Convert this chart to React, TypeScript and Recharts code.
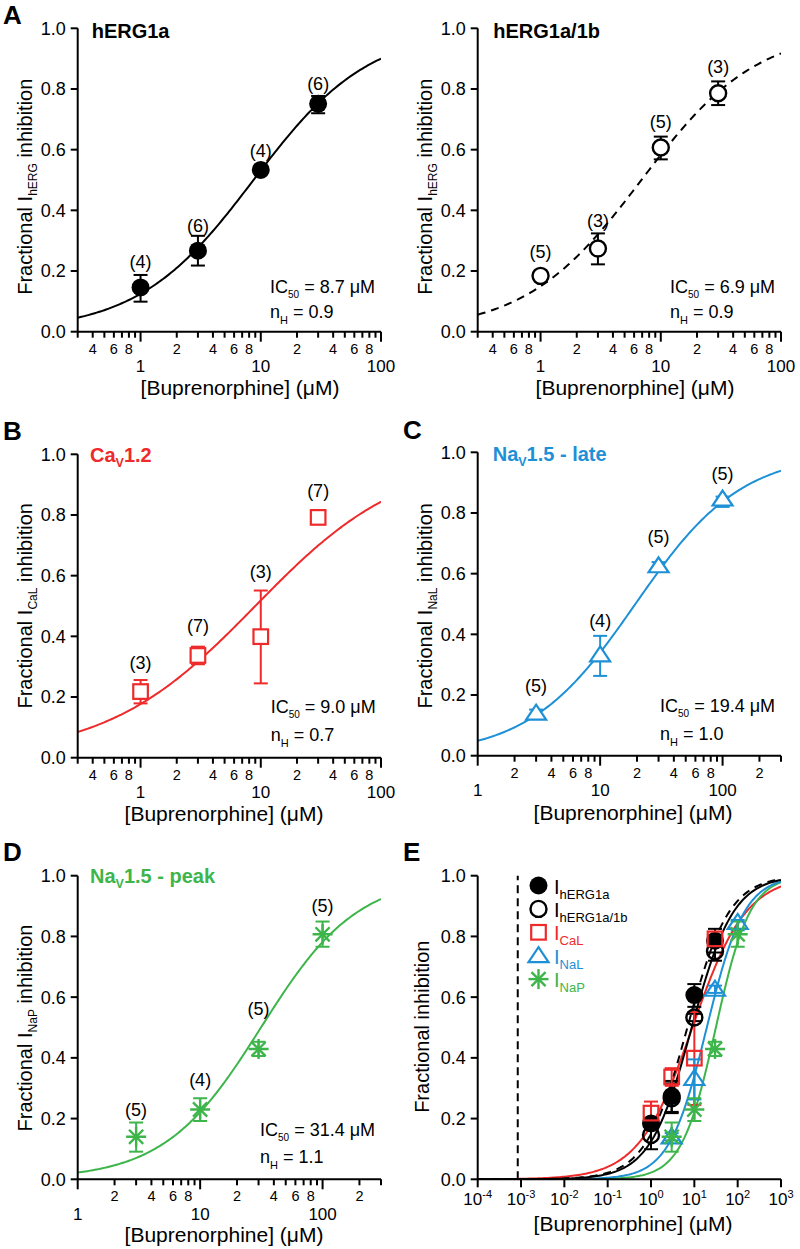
import React from "react";
import {
  ComposedChart,
  Line,
  Scatter,
  XAxis,
  YAxis,
  ErrorBar,
  ReferenceLine,
} from "recharts";

const FONT = "'Liberation Sans', Arial, Helvetica, sans-serif";
const BLACK = "#000000";
const RED = "#ee2a2a";
const BLUE = "#1e90d6";
const GREEN = "#3db54a";

// buprenorphine concentrations (uM)
const HERG_CONC = [1, 3, 10, 30];
const NAV_CONC = [3, 10, 30, 100];

// mean fractional inhibition, error as [below, above], and n per point
const HERG1A_MEAN = [0.146, 0.267, 0.533, 0.751];
const HERG1A_ERR = [[0.047, 0.041], [0.049, 0.049], [0.012, 0.012], [0.031, 0.026]];
const HERG1A_N = [4, 6, 4, 6];

const HERG1B_MEAN = [0.184, 0.274, 0.607, 0.786];
const HERG1B_ERR = [[0.012, 0.012], [0.052, 0.05], [0.039, 0.036], [0.039, 0.039]];
const HERG1B_N = [5, 3, 5, 3];

const CAL_MEAN = [0.218, 0.337, 0.399, 0.792];
const CAL_ERR = [[0.039, 0.038], [0.029, 0.029], [0.154, 0.152], [0.012, 0.012]];
const CAL_N = [3, 7, 3, 7];

const NAL_MEAN = [0.14, 0.332, 0.626, 0.846];
const NAL_ERR = [[0.012, 0.012], [0.069, 0.063], [0.012, 0.012], [0.026, 0.008]];
const NAL_N = [5, 4, 5, 5];

const NAP_MEAN = [0.14, 0.23, 0.429, 0.807];
const NAP_ERR = [[0.049, 0.047], [0.038, 0.037], [0.023, 0.024], [0.041, 0.042]];
const NAP_N = [5, 4, 5, 5];

// Hill fit parameters: hERG1a, hERG1a/1b, CaL, NaL, NaP
const FIT_IC50 = [8.7, 6.9, 9.0, 19.4, 31.4];
const FIT_NH = [0.9, 0.9, 0.7, 1.0, 1.1];

// therapeutic concentration marker in E (uM)
const CMAX = 0.00084;

// ticks
const Y_TICKS = [0, 0.2, 0.4, 0.6, 0.8, 1.0];
const X_TICKS_LOW = [
  0.3, 0.4, 0.5, 0.6, 0.7, 0.8, 0.9, 1, 2, 3, 4, 5, 6, 7, 8, 9, 10, 20, 30,
  40, 50, 60, 70, 80, 90, 100,
];
const X_TICKS_HIGH = [
  1, 2, 3, 4, 5, 6, 7, 8, 9, 10, 20, 30, 40, 50, 60, 70, 80, 90, 100, 200, 300,
];
const X_TICKS_WIDE = [0.0001, 0.001, 0.01, 0.1, 1, 10, 100, 1000];

// label gaps above each point (px), layout only
const GAP_A = [3, 0, 0, 1];
const GAP_A2 = [5, 3, 5, 5];
const GAP_B = [7, 11, 9, 8];
const GAP_C = [8, 5, 9, 6];
const GAP_D = [3, 8, 20, 6];

const rows = (conc: number[], mean: number[], err: number[][], n?: number[]) =>
  conc.map((x, i) => ({ i, x, y: mean[i], err: err[i], n: n ? n[i] : 0 }));

// fitted Hill curve from the stated IC50 / nH
const hill = (k: number, lo: number, hi: number) => {
  const out: { x: number; y: number }[] = [];
  const a = Math.log10(lo);
  const b = Math.log10(hi);
  for (let s = 0; s <= 160; s++) {
    const x = Math.pow(10, a + ((b - a) * s) / 160);
    out.push({ x, y: 1 / (1 + Math.pow(FIT_IC50[k] / x, FIT_NH[k])) });
  }
  return out;
};

const isDecade = (v: number) => {
  const l = Math.log10(v);
  return Math.abs(l - Math.round(l)) < 1e-9;
};

function Marker({ kind, cx, cy, color, fill }: any) {
  if (kind === "dot") return <circle cx={cx} cy={cy} r={9} fill={color} />;
  if (kind === "ring")
    return <circle cx={cx} cy={cy} r={8} fill={fill} stroke={color} strokeWidth={2.4} />;
  if (kind === "square")
    return (
      <rect x={cx - 7.3} y={cy - 7.3} width={14.6} height={14.6} fill={fill} stroke={color} strokeWidth={2.2} />
    );
  if (kind === "tri")
    return (
      <polygon
        points={`${cx},${cy - 8.5} ${cx + 10},${cy + 6.5} ${cx - 10},${cy + 6.5}`}
        fill={fill}
        stroke={color}
        strokeWidth={2.2}
      />
    );
  const r = 10;
  const d = r * 0.7071;
  return (
    <g stroke={color} strokeWidth={2.4}>
      <line x1={cx} y1={cy - r} x2={cx} y2={cy + r} />
      <line x1={cx - r} y1={cy} x2={cx + r} y2={cy} />
      <line x1={cx - d} y1={cy - d} x2={cx + d} y2={cy + d} />
      <line x1={cx - d} y1={cy + d} x2={cx + d} y2={cy - d} />
    </g>
  );
}

const HALF: any = { dot: 9, ring: 9, square: 8.4, tri: 9.6, star: 10 };

const shapeFor =
  (kind: string, color: string, fill: string, plotH: number, gaps?: number[]) =>
  (props: any) => {
    const { cx, cy, payload } = props;
    if (cx == null || cy == null) return <g />;
    let label = null;
    if (gaps && payload) {
      const top = Math.min(cy - payload.err[1] * plotH, cy - HALF[kind]);
      label = (
        <text
          x={cx}
          y={top - gaps[payload.i] - 3.8}
          textAnchor="middle"
          fontSize={18}
          fontFamily={FONT}
          fill={BLACK}
        >
          {`(${payload.n})`}
        </text>
      );
    }
    return (
      <g>
        <Marker kind={kind} cx={cx} cy={cy} color={color} fill={fill} />
        {label}
      </g>
    );
  };

function LogTick(props: any) {
  const { x, y, payload } = props;
  const v = payload.value;
  const major = isDecade(v);
  const lead = Math.round(v / Math.pow(10, Math.floor(Math.log10(v) + 1e-9)));
  return (
    <g>
      <line x1={x} x2={x} y1={y} y2={y + (major ? 10 : 6)} stroke={BLACK} strokeWidth={2} />
      {major ? (
        <text x={x} y={y + 40.5} textAnchor="middle" fontSize={17} fontFamily={FONT} fill={BLACK}>
          {String(v)}
        </text>
      ) : [2, 4, 6, 8].includes(lead) ? (
        <text x={x} y={y + 22} textAnchor="middle" fontSize={14.5} fontFamily={FONT} fill={BLACK}>
          {String(lead)}
        </text>
      ) : null}
    </g>
  );
}

function ExpTick(props: any) {
  const { x, y, payload } = props;
  const e = Math.round(Math.log10(payload.value));
  return (
    <g>
      <line x1={x} x2={x} y1={y} y2={y + 8} stroke={BLACK} strokeWidth={2} />
      <text x={x} y={y + 26} textAnchor="middle" fontSize={17} fontFamily={FONT} fill={BLACK}>
        10
        <tspan dy={-7} fontSize={11}>
          {String(e)}
        </tspan>
      </text>
    </g>
  );
}

const PLOT_X0 = 77.7;
const PLOT_X1 = 381;
const YW = 60;
const XH = 50;

function Frame({ w, h, y0, y1, xDomain, xTicks, wide, children }: any) {
  return (
    <ComposedChart
      width={w}
      height={h}
      margin={{ top: y0, right: w - PLOT_X1, bottom: h - y1 - XH, left: PLOT_X0 - YW }}
    >
      <XAxis
        dataKey="x"
        type="number"
        scale="log"
        domain={xDomain}
        allowDataOverflow
        ticks={xTicks}
        interval={0}
        tick={(p: any) => (wide ? <ExpTick {...p} /> : <LogTick {...p} />)}
        tickLine={false}
        tickSize={0}
        tickMargin={0}
        height={XH}
        axisLine={{ stroke: BLACK, strokeWidth: 2 }}
      />
      <YAxis
        type="number"
        domain={[0, 1]}
        allowDataOverflow
        ticks={Y_TICKS}
        interval={0}
        tickFormatter={(v: number) => v.toFixed(1)}
        width={YW}
        tickSize={7}
        tickMargin={5}
        axisLine={{ stroke: BLACK, strokeWidth: 2 }}
        tickLine={{ stroke: BLACK, strokeWidth: 2 }}
        tick={{ fill: BLACK, fontSize: 18, fontFamily: FONT }}
      />
      {children}
    </ComposedChart>
  );
}

function YLabel({ x, cy, sub }: any) {
  return (
    <text
      transform={`translate(${x},${cy}) rotate(-90)`}
      textAnchor="middle"
      fontSize={20}
      fontFamily={FONT}
      fill={BLACK}
    >
      {sub ? (
        <>
          {"Fractional I"}
          <tspan dy={5} fontSize={12}>
            {sub}
          </tspan>
          <tspan dy={-5}>{" inhibition"}</tspan>
        </>
      ) : (
        "Fractional inhibition"
      )}
    </text>
  );
}

function XLabel({ cx, y }: any) {
  return (
    <text x={cx} y={y} textAnchor="middle" fontSize={21} fontFamily={FONT} fill={BLACK}>
      [Buprenorphine] (μM)
    </text>
  );
}

function Letter({ ch, y }: any) {
  return (
    <text x={3} y={y} fontSize={26} fontWeight="bold" fontFamily={FONT} fill={BLACK}>
      {ch}
    </text>
  );
}

function Title({ x, y, color, main, sub, rest }: any) {
  return (
    <text x={x} y={y} fontSize={20} fontWeight="bold" fontFamily={FONT} fill={color}>
      {main}
      {sub ? (
        <>
          <tspan dy={5} fontSize={12.5}>
            {sub}
          </tspan>
          <tspan dy={-5}>{rest}</tspan>
        </>
      ) : null}
    </text>
  );
}

function FitText({ x, y1, y2, k }: any) {
  return (
    <g fontFamily={FONT} fill={BLACK} fontSize={18}>
      <text x={x} y={y1}>
        IC
        <tspan dy={5} fontSize={10}>
          50
        </tspan>
        <tspan dy={-5}>{` = ${FIT_IC50[k].toFixed(1)} μM`}</tspan>
      </text>
      <text x={x} y={y2}>
        n
        <tspan dy={6} fontSize={11}>
          H
        </tspan>
        <tspan dy={-6}>{` = ${FIT_NH[k].toFixed(1)}`}</tspan>
      </text>
    </g>
  );
}

function Panel({ left, top, w, h, chart, overlay }: any) {
  return (
    <div style={{ position: "absolute", left, top, width: w, height: h }}>
      {chart}
      <svg
        width={w}
        height={h}
        style={{ position: "absolute", left: 0, top: 0, pointerEvents: "none", overflow: "visible" }}
      >
        {overlay}
      </svg>
    </div>
  );
}

const fitLine = (k: number, lo: number, hi: number, color: string, dash?: string) => (
  <Line
    data={hill(k, lo, hi)}
    dataKey="y"
    type="linear"
    dot={false}
    activeDot={false}
    stroke={color}
    strokeWidth={2}
    strokeDasharray={dash}
    isAnimationActive={false}
  />
);

const points = (
  data: any[],
  kind: string,
  color: string,
  fill: string,
  plotH: number,
  gaps?: number[]
) => (
  <Scatter
    data={data}
    dataKey="y"
    isAnimationActive={false}
    shape={shapeFor(kind, color, fill, plotH, gaps)}
  >
    <ErrorBar dataKey="err" direction="y" width={7} stroke={color} strokeWidth={2} isAnimationActive={false} />
  </Scatter>
);

const LEGEND = [
  { kind: "dot", color: BLACK, sub: "hERG1a" },
  { kind: "ring", color: BLACK, sub: "hERG1a/1b" },
  { kind: "square", color: RED, sub: "CaL" },
  { kind: "tri", color: BLUE, sub: "NaL" },
  { kind: "star", color: GREEN, sub: "NaP" },
];

export default function App() {
  const A = { y0: 28.3, y1: 331.7 };
  const B = { y0: 34.3, y1: 337.7 };
  const C = { y0: 32.3, y1: 335.7 };
  const D = { y0: 35.7, y1: 339.3 };

  const herg1a = rows(HERG_CONC, HERG1A_MEAN, HERG1A_ERR, HERG1A_N);
  const herg1b = rows(HERG_CONC, HERG1B_MEAN, HERG1B_ERR, HERG1B_N);
  const cal = rows(HERG_CONC, CAL_MEAN, CAL_ERR, CAL_N);
  const nal = rows(NAV_CONC, NAL_MEAN, NAL_ERR, NAL_N);
  const nap = rows(NAV_CONC, NAP_MEAN, NAP_ERR, NAP_N);

  return (
    <div
      style={{
        position: "absolute",
        left: 0,
        top: 0,
        width: 800,
        height: 1249,
        background: "#ffffff",
        fontFamily: FONT,
      }}
    >
      <Panel
        left={0}
        top={0}
        w={400}
        h={420}
        chart={
          <Frame w={400} h={420} {...A} xDomain={[0.3, 100]} xTicks={X_TICKS_LOW}>
            {fitLine(0, 0.3, 100, BLACK)}
            {points(herg1a, "dot", BLACK, BLACK, A.y1 - A.y0, GAP_A)}
          </Frame>
        }
        overlay={
          <>
            <Letter ch="A" y={24} />
            <Title x={91.7} y={37.7} color={BLACK} main="hERG1a" />
            <YLabel x={31.7} cy={186.7} sub="hERG" />
            <XLabel cx={240} y={395} />
            <FitText x={270} y1={292.7} y2={318.3} k={0} />
          </>
        }
      />
      <Panel
        left={400}
        top={0}
        w={400}
        h={420}
        chart={
          <Frame w={400} h={420} {...A} xDomain={[0.3, 100]} xTicks={X_TICKS_LOW}>
            {fitLine(1, 0.3, 100, BLACK, "8 6")}
            {points(herg1b, "ring", BLACK, "#ffffff", A.y1 - A.y0, GAP_A2)}
          </Frame>
        }
        overlay={
          <>
            <Title x={93.3} y={37.7} color={BLACK} main="hERG1a/1b" />
            <YLabel x={31.7} cy={186.7} sub="hERG" />
            <XLabel cx={235} y={395} />
            <FitText x={270} y1={292.7} y2={318.3} k={1} />
          </>
        }
      />
      <Panel
        left={0}
        top={420}
        w={400}
        h={420}
        chart={
          <Frame w={400} h={420} {...B} xDomain={[0.3, 100]} xTicks={X_TICKS_LOW}>
            {fitLine(2, 0.3, 100, RED)}
            {points(cal, "square", RED, "#ffffff", B.y1 - B.y0, GAP_B)}
          </Frame>
        }
        overlay={
          <>
            <Letter ch="B" y={19.5} />
            <Title x={90} y={41.7} color={RED} main="Ca" sub="V" rest="1.2" />
            <YLabel x={31.7} cy={185.8} sub="CaL" />
            <XLabel cx={224} y={401} />
            <FitText x={270.7} y1={293.3} y2={320.7} k={2} />
          </>
        }
      />
      <Panel
        left={400}
        top={420}
        w={400}
        h={420}
        chart={
          <Frame w={400} h={420} {...C} xDomain={[1, 300]} xTicks={X_TICKS_HIGH}>
            {fitLine(3, 1, 300, BLUE)}
            {points(nal, "tri", BLUE, "#ffffff", C.y1 - C.y0, GAP_C)}
          </Frame>
        }
        overlay={
          <>
            <Letter ch="C" y={19} />
            <Title x={92.7} y={41} color={BLUE} main="Na" sub="V" rest="1.5 - late" />
            <YLabel x={31.7} cy={185.8} sub="NaL" />
            <XLabel cx={233} y={400} />
            <FitText x={260} y1={291.7} y2={320} k={3} />
          </>
        }
      />
      <Panel
        left={0}
        top={840}
        w={400}
        h={409}
        chart={
          <Frame w={400} h={409} {...D} xDomain={[1, 300]} xTicks={X_TICKS_HIGH}>
            {fitLine(4, 1, 300, GREEN)}
            {points(nap, "star", GREEN, "none", D.y1 - D.y0, GAP_D)}
          </Frame>
        }
        overlay={
          <>
            <Letter ch="D" y={20.7} />
            <Title x={90} y={42.7} color={GREEN} main="Na" sub="V" rest="1.5 - peak" />
            <YLabel x={31.7} cy={188} sub="NaP" />
            <XLabel cx={224} y={401.5} />
            <FitText x={260} y1={296} y2={322.7} k={4} />
          </>
        }
      />
      <Panel
        left={400}
        top={840}
        w={400}
        h={409}
        chart={
          <Frame w={400} h={409} {...D} xDomain={[0.0001, 1000]} xTicks={X_TICKS_WIDE} wide>
            <ReferenceLine x={CMAX} stroke={BLACK} strokeWidth={2} strokeDasharray="8 5" />
            {fitLine(2, 0.0001, 1000, RED)}
            {fitLine(4, 0.0001, 1000, GREEN)}
            {fitLine(3, 0.0001, 1000, BLUE)}
            {fitLine(0, 0.0001, 1000, BLACK)}
            {fitLine(1, 0.0001, 1000, BLACK, "8 6")}
            {/* the summary panel draws the hERG1a/1b values as filled and hERG1a as open */}
            {points(herg1b, "dot", BLACK, BLACK, D.y1 - D.y0)}
            {points(herg1a, "ring", BLACK, "none", D.y1 - D.y0)}
            {points(cal, "square", RED, "none", D.y1 - D.y0)}
            {points(nal, "tri", BLUE, "none", D.y1 - D.y0)}
            {points(nap, "star", GREEN, "none", D.y1 - D.y0)}
          </Frame>
        }
        overlay={
          <>
            <Letter ch="E" y={20.7} />
            <YLabel x={29} cy={186.7} />
            <XLabel cx={233} y={391} />
            {LEGEND.map((l, i) => {
              const cy = 45.5 + i * 23.4;
              return (
                <g key={l.sub}>
                  <Marker kind={l.kind} cx={138.5} cy={cy} color={l.color} fill="#ffffff" />
                  <text x={154} y={cy + 8} fontSize={20} fontFamily={FONT} fill={l.color}>
                    I
                    <tspan dy={5} fontSize={13}>
                      {l.sub}
                    </tspan>
                  </text>
                </g>
              );
            })}
          </>
        }
      />
    </div>
  );
}
